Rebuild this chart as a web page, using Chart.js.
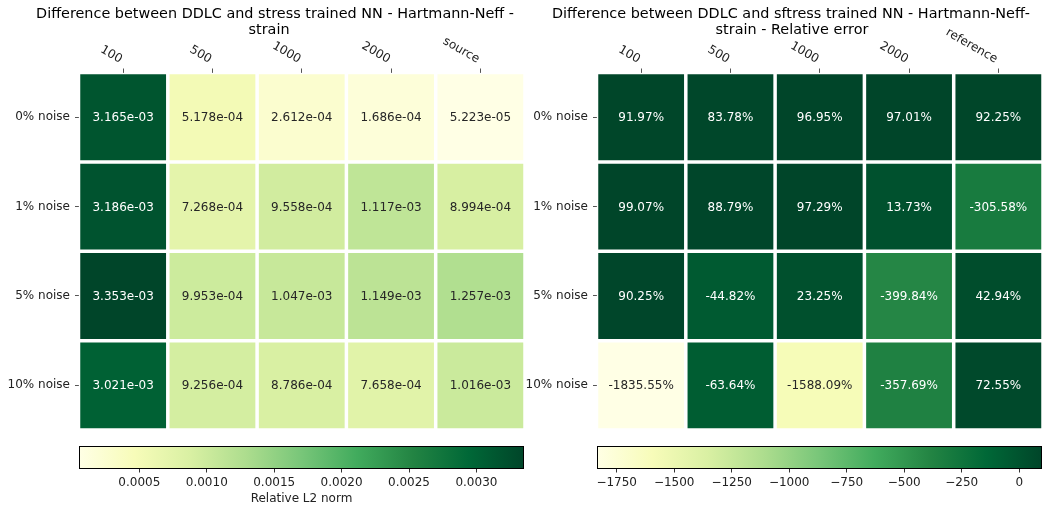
<!DOCTYPE html>
<html>
<head>
<meta charset="utf-8">
<script src="https://cdn.jsdelivr.net/npm/chart.js@4.4.0/dist/chart.umd.min.js"></script>
<style>
  body { margin: 0; background: #fff; }
  #wrap { position: relative; width: 1045px; height: 508px; }
  #wrap canvas { position: absolute; left: 0; top: 0; }
</style>
</head>
<body>
<div id="wrap">
  <canvas id="heatLeft" width="1045" height="508"></canvas>
  <canvas id="heatRight" width="1045" height="508"></canvas>
  <canvas id="barLeft" width="1045" height="508"></canvas>
  <canvas id="barRight" width="1045" height="508"></canvas>
</div>
<script>
const rowLabels = ["0% noise", "1% noise", "5% noise", "10% noise"];
const normCols = ["100", "500", "1000", "2000", "source"];
const relCols = ["100", "500", "1000", "2000", "reference"];

// relative L2 norm, one array per noise level
const norm0 = [3.165e-03, 5.178e-04, 2.612e-04, 1.686e-04, 5.223e-05];
const norm1 = [3.186e-03, 7.268e-04, 9.558e-04, 1.117e-03, 8.994e-04];
const norm5 = [3.353e-03, 9.953e-04, 1.047e-03, 1.149e-03, 1.257e-03];
const norm10 = [3.021e-03, 9.256e-04, 8.786e-04, 7.658e-04, 1.016e-03];

// relative error in %
const rel0 = [91.97, 83.78, 96.95, 97.01, 92.25];
const rel1 = [99.07, 88.79, 97.29, 13.73, -305.58];
const rel5 = [90.25, -44.82, 23.25, -399.84, 42.94];
const rel10 = [-1835.55, -63.64, -1588.09, -357.69, 72.55];

const normTicks = [0.0005, 0.0010, 0.0015, 0.0020, 0.0025, 0.0030];
const relTicks = [-1750, -1500, -1250, -1000, -750, -500, -250, 0];

const FONT = 'DejaVu Sans';
Chart.defaults.font.family = FONT;
Chart.defaults.font.size = 12;
Chart.defaults.color = '#222';

// YlGn
const ylgn = [
  [255, 255, 229], [247, 252, 185], [217, 240, 163], [173, 221, 142], [120, 198, 121],
  [65, 171, 93], [35, 132, 67], [0, 104, 55], [0, 69, 41]
];
function cmapRgb(t) {
  t = Math.min(1, Math.max(0, t)) * (ylgn.length - 1);
  const i = Math.min(Math.floor(t), ylgn.length - 2);
  const f = t - i;
  return ylgn[i].map((c, k) => c + (ylgn[i + 1][k] - c) * f);
}
const rgbStr = c => `rgb(${c.map(Math.round).join(',')})`;
function textColor(c) {
  const lin = c.map(v => { v /= 255; return v <= 0.03928 ? v / 12.92 : Math.pow((v + 0.055) / 1.055, 2.4); });
  const lum = 0.2126 * lin[0] + 0.7152 * lin[1] + 0.0722 * lin[2];
  return lum > 0.408 ? '#262626' : '#ffffff';
}

function sci(v) {
  const [m, e] = v.toExponential(3).split('e');
  const n = parseInt(e, 10);
  return m + 'e' + (n < 0 ? '-' : '+') + String(Math.abs(n)).padStart(2, '0');
}
const pct = v => v.toFixed(2) + '%';

const textPlugin = {
  id: 'texts',
  afterDatasetsDraw(chart, args, opts) {
    if (!opts.cells) return;
    const ctx = chart.ctx;
    ctx.save();
    ctx.font = `12px "${FONT}"`;
    ctx.textAlign = 'center';
    ctx.textBaseline = 'middle';
    chart.data.datasets.forEach((ds, d) => {
      chart.getDatasetMeta(d).data.forEach((el, i) => {
        const p = el.getCenterPoint();
        ctx.fillStyle = ds.textColors[i];
        ctx.fillText(opts.cells(ds.values[i]), p.x, p.y + 1);
      });
    });
    ctx.restore();
  },
  afterDraw(chart, args, opts) {
    const ctx = chart.ctx;
    if (opts.topLabels) {
      const sx = chart.scales.x;
      const th = Math.PI / 6, h = 12;
      ctx.save();
      ctx.font = `12px "${FONT}"`;
      ctx.fillStyle = '#222';
      ctx.textAlign = 'center';
      ctx.textBaseline = 'middle';
      chart.data.labels.forEach((lab, i) => {
        const w = ctx.measureText(lab).width;
        const bw = w * Math.cos(th) + h * Math.sin(th);
        const bh = w * Math.sin(th) + h * Math.cos(th);
        ctx.save();
        ctx.translate(sx.getPixelForTick(i) + 1 - bw / 2, opts.topLabels - bh / 2);
        ctx.rotate(th);
        ctx.fillText(lab, 0, 0);
        ctx.restore();
      });
      ctx.restore();
    }
    if (opts.title) {
      ctx.save();
      ctx.font = `14.4px "${FONT}"`;
      ctx.fillStyle = '#000';
      ctx.textAlign = 'center';
      ctx.textBaseline = 'alphabetic';
      opts.title.forEach(t => ctx.fillText(t.text, t.x, t.y));
      ctx.restore();
    }
  }
};
Chart.register(textPlugin);

function heatmap(id, cols, rows, fmt, area, title) {
  const all = rows.flat();
  const lo = Math.min(...all), hi = Math.max(...all);
  const datasets = rows.map((vals, r) => {
    const cols = vals.map(v => cmapRgb((v - lo) / (hi - lo)));
    return {
      data: vals.map(() => [r - 0.5, r + 0.5]),
      values: vals,
      backgroundColor: cols.map(rgbStr),
      textColors: cols.map(textColor),
      borderColor: '#ffffff',
      borderWidth: 1.75,
      borderSkipped: false,
      inflateAmount: 0,
      grouped: false,
      barPercentage: 1,
      categoryPercentage: 1
    };
  });
  return new Chart(id, {
    type: 'bar',
    data: { labels: cols, datasets },
    options: {
      responsive: false,
      animation: false,
      events: [],
      layout: { padding: { left: 0, top: 0, right: 1045 - area.right, bottom: 508 - area.bottom } },
      plugins: {
        legend: { display: false },
        tooltip: { enabled: false },
        texts: { cells: fmt, topLabels: area.top - 7, title }
      },
      scales: {
        x: {
          type: 'category',
          position: 'top',
          offset: true,
          grid: { offset: false, drawOnChartArea: false, tickLength: 4, tickColor: '#555', tickWidth: 1 },
          border: { display: false },
          ticks: { display: false },
          afterFit: s => { s.height = area.top; s.paddingLeft = 0; s.paddingRight = 0; }
        },
        y: {
          type: 'linear',
          min: -0.5,
          max: 3.5,
          reverse: true,
          afterBuildTicks: s => { s.ticks = rowLabels.map((_, i) => ({ value: i })); },
          ticks: { callback: v => rowLabels[v], padding: 5, color: '#222' },
          grid: { drawOnChartArea: false, tickLength: 3.5, tickColor: '#555', tickWidth: 1 },
          border: { display: false },
          afterFit: s => { s.width = area.left; s.paddingTop = 0; s.paddingBottom = 0; }
        }
      }
    }
  });
}

function colorbar(id, rows, ticks, fmt, area, label) {
  const all = rows.flat();
  const lo = Math.min(...all), hi = Math.max(...all);
  return new Chart(id, {
    type: 'bar',
    data: {
      labels: [''],
      datasets: [{
        data: [[lo, hi]],
        backgroundColor: c => {
          const a = c.chart.chartArea;
          if (!a) return 'transparent';
          const g = c.chart.ctx.createLinearGradient(a.left, 0, a.right, 0);
          ylgn.forEach((col, i) => g.addColorStop(i / (ylgn.length - 1), rgbStr(col)));
          return g;
        },
        borderColor: '#000',
        borderWidth: 1,
        borderSkipped: false,
        inflateAmount: 0,
        barPercentage: 1,
        categoryPercentage: 1
      }]
    },
    options: {
      indexAxis: 'y',
      responsive: false,
      animation: false,
      events: [],
      layout: { padding: { left: area.left, top: area.top, right: 1045 - area.right, bottom: 0 } },
      plugins: { legend: { display: false }, tooltip: { enabled: false } },
      scales: {
        y: { display: false },
        x: {
          type: 'linear',
          min: lo,
          max: hi,
          afterBuildTicks: s => { s.ticks = ticks.map(v => ({ value: v })); },
          ticks: { callback: fmt, padding: 3, maxRotation: 0, autoSkip: false, color: '#222' },
          grid: { drawOnChartArea: false, tickLength: 3.5, tickColor: '#333', tickWidth: 1 },
          border: { display: false },
          title: { display: !!label, text: label || '', color: '#222', padding: { top: 0, bottom: 2 } },
          afterFit: s => { s.height = 508 - area.bottom; s.paddingLeft = 0; s.paddingRight = 0; }
        }
      }
    }
  });
}

const normRows = [norm0, norm1, norm5, norm10];
const relRows = [rel0, rel1, rel5, rel10];

heatmap('heatLeft', normCols, normRows, sci,
  { left: 78.5, top: 72.5, right: 525, bottom: 430 },
  [{ text: 'Difference between DDLC and stress trained NN - Hartmann-Neff -', x: 275, y: 18 },
   { text: 'strain', x: 269, y: 33.5 }]);
heatmap('heatRight', relCols, relRows, pct,
  { left: 596.5, top: 72.5, right: 1043, bottom: 430 },
  [{ text: 'Difference between DDLC and sftress trained NN - Hartmann-Neff-', x: 791, y: 18 },
   { text: 'strain - Relative error', x: 792, y: 33.5 }]);

colorbar('barLeft', normRows, normTicks, v => v.toFixed(4),
  { left: 79, top: 446, right: 524, bottom: 469 }, 'Relative L2 norm');
colorbar('barRight', relRows, relTicks, v => String(v).replace('-', '\u2212'),
  { left: 597, top: 446, right: 1042, bottom: 469 }, null);
</script>
</body>
</html>
